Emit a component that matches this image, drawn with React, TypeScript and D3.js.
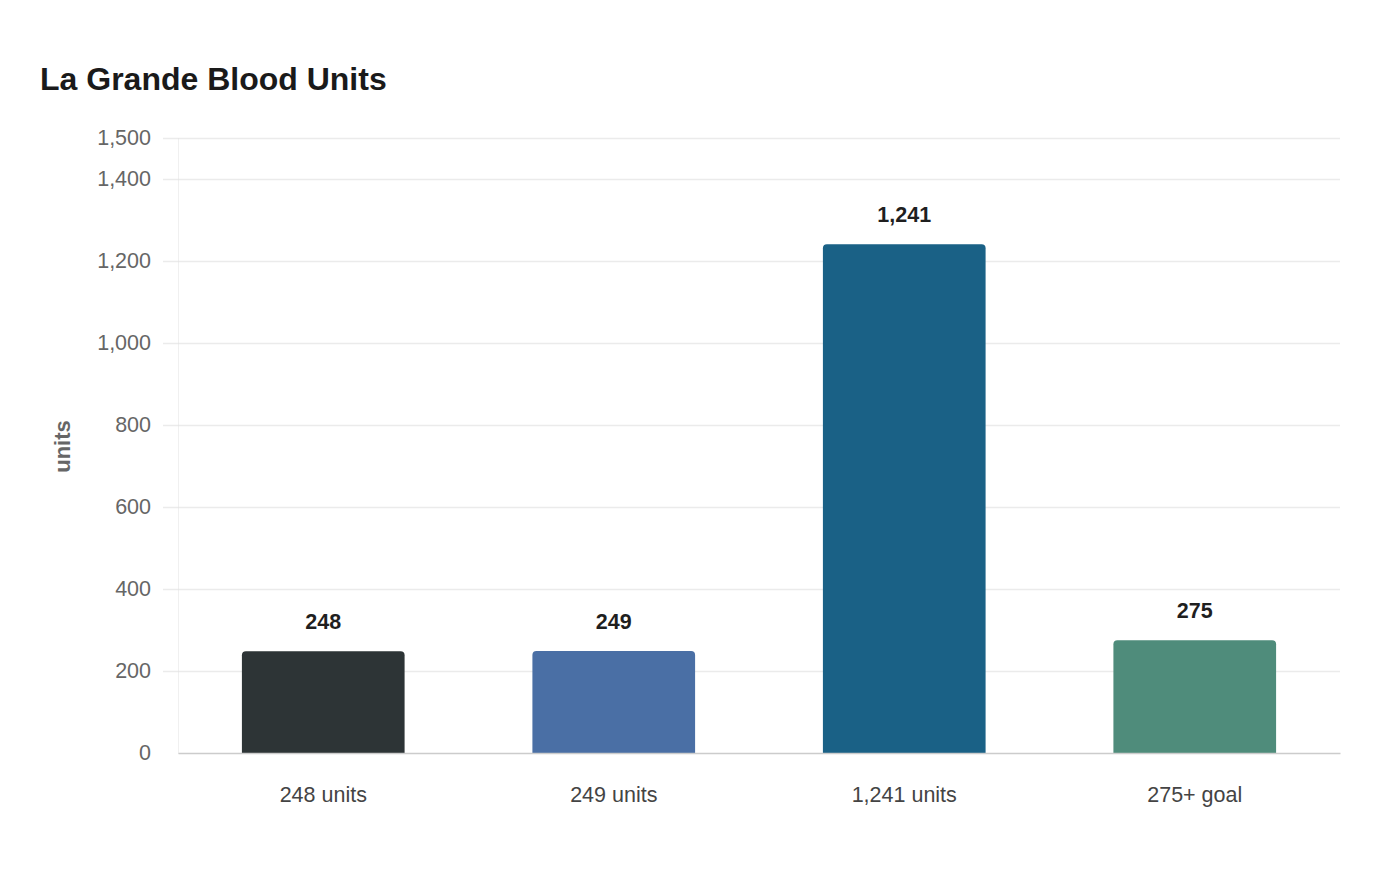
import React, { useEffect, useRef } from "react";
import * as d3 from "d3";

// chart values
const categories = ["248 units", "249 units", "1,241 units", "275+ goal"];
const values = [248, 249, 1241, 275];
const barColors = ["#2d3436", "#4a6fa5", "#1a6186", "#4f8c7b"];
const yTicks = [0, 200, 400, 600, 800, 1000, 1200, 1400, 1500];

const App = () => {
  const svgRef = useRef<SVGSVGElement>(null);

  useEffect(() => {
    const svg = d3.select(svgRef.current);
    svg.selectAll("*").remove();

    const svgWidth = 1384;
    const svgHeight = 864;
    const margin = { top: 130, right: 52, bottom: 119, left: 170 };
    const width = svgWidth - margin.left - margin.right;
    const height = svgHeight - margin.top - margin.bottom;
    const font = "'Liberation Sans', Arial, sans-serif";

    svg.attr("width", svgWidth).attr("height", svgHeight).style("font-family", font);

    // title
    svg
      .append("text")
      .attr("x", 32)
      .attr("y", 82)
      .style("font-size", "32px")
      .style("font-weight", "bold")
      .attr("fill", "#1a1a1a")
      .text("La Grande Blood Units");

    const g = svg.append("g").attr("transform", `translate(${margin.left},${margin.top})`);

    const x = d3
      .scaleBand()
      .domain(categories)
      .range([0, width])
      .paddingInner(0.44)
      .paddingOuter(0.22);
    const y = d3.scaleLinear().domain([0, 1500]).range([height, 0]);

    // gridlines
    g.append("g")
      .selectAll("line")
      .data(yTicks.filter((t) => t > 0))
      .enter()
      .append("line")
      .attr("x1", -15)
      .attr("x2", width)
      .attr("y1", (d) => y(d) + 0.5)
      .attr("y2", (d) => y(d) + 0.5)
      .attr("stroke", "#ebebeb")
      .attr("stroke-width", 1.5);

    // y axis
    const yAxis = g
      .append("g")
      .call(
        d3
          .axisLeft(y)
          .tickValues(yTicks)
          .tickSize(0)
          .tickPadding(27)
          .tickFormat((d) => d3.format(",")(d as number))
      );
    yAxis.select(".domain").attr("stroke", "#e0e0e0").attr("stroke-dasharray", "1,1");
    yAxis
      .selectAll("text")
      .style("font-size", "21.5px")
      .style("font-family", font)
      .attr("fill", "#666");

    // y axis label
    g.append("text")
      .attr("transform", "rotate(-90)")
      .attr("x", -(y(0) + y(1500)) / 2 - 1)
      .attr("y", -108)
      .attr("text-anchor", "middle")
      .style("font-size", "22px")
      .style("font-weight", "bold")
      .attr("fill", "#666")
      .text("units");

    // bars
    const bar = g.selectAll(".bar").data(values).enter().append("g").attr("class", "bar");
    const r = 4;
    bar
      .append("path")
      .attr("d", (d, i) => {
        const x0 = x(categories[i])!;
        const w = x.bandwidth();
        const top = y(d);
        const bottom = y(0);
        return `M${x0},${bottom}V${top + r}Q${x0},${top} ${x0 + r},${top}H${x0 + w - r}Q${x0 + w},${top} ${x0 + w},${top + r}V${bottom}Z`;
      })
      .attr("fill", (d, i) => barColors[i]);

    // value labels
    bar
      .append("text")
      .attr("x", (d, i) => x(categories[i])! + x.bandwidth() / 2)
      .attr("y", (d) => y(d) - 22)
      .attr("text-anchor", "middle")
      .style("font-size", "21.5px")
      .style("font-weight", "bold")
      .attr("fill", "#1f1f1f")
      .text((d) => d3.format(",")(d));

    // x axis
    const xAxis = g
      .append("g")
      .attr("transform", `translate(0,${height})`)
      .call(d3.axisBottom(x).tickSize(0).tickPadding(34));
    xAxis.select(".domain").attr("stroke", "#cccccc").attr("stroke-width", 1.5);
    xAxis
      .selectAll("text")
      .style("font-size", "21.5px")
      .style("font-family", font)
      .attr("fill", "#444");
  }, []);

  return <svg ref={svgRef}></svg>;
};

export default App;
